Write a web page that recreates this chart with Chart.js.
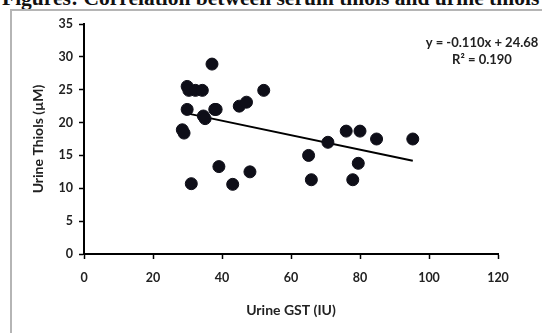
<!DOCTYPE html>
<html>
<head>
<meta charset="utf-8">
<script src="https://cdn.jsdelivr.net/npm/chart.js@4"></script>
<style>
    body { margin: 0; background: #fff; width: 542px; height: 333px; overflow: hidden; position: relative; }
    #caption { position: absolute; left: 2px; top: -12px; font: bold 21.5px/21.5px "Liberation Serif", serif; white-space: nowrap; color: #111; }
    #box { position: absolute; left: 10px; top: 9px; width: 530px; height: 340px; border: 2px solid #b5b5b5; border-right-color: #e4e4e4; }
    #wrap { position: absolute; left: 0; top: 0; width: 542px; height: 333px; }
</style>
</head>
<body>
<div id="caption">Figures: Correlation between serum thiols and urine thiols</div>
<div id="box"></div>
<div id="wrap"><canvas id="myChart"></canvas></div>
<script>
// Urine GST (IU) vs Urine Thiols (uM)
let gstValues = [37.1, 29.9, 30.4, 32.3, 34.3, 29.9, 34.6, 35.1, 37.9, 38.3, 45.0, 47.1, 52.1, 28.5, 29.0,
    39.1, 31.1, 43.1, 48.1,
    65.1, 65.9, 70.7, 76.0, 80.0, 79.5, 77.9, 84.8, 95.3];
let thiolValues = [28.9, 25.5, 24.9, 24.9, 24.9, 22.0, 21.0, 20.6, 22.0, 22.0, 22.5, 23.1, 24.9, 18.9, 18.4,
    13.3, 10.7, 10.6, 12.5,
    15.0, 11.3, 17.0, 18.7, 18.7, 13.8, 11.3, 17.5, 17.5];

// trend line ends as drawn in the picture
let trendX = [28.5, 95.3];
let trendY = [21.55, 14.2];

let xTicks = [0, 20, 40, 60, 80, 100, 120];
let yTicks = [0, 5, 10, 15, 20, 25, 30, 35];

let tickFont = { family: 'Lato', size: 12.5, weight: 'bold' };
let titleFont = { family: 'Lato', size: 14, weight: 'bold' };

let points = gstValues.map((x, i) => ({ x: x, y: thiolValues[i] }));
let trend = trendX.map((x, i) => ({ x: x, y: trendY[i] }));

// writes the equation text in the upper right corner
const equationPlugin = {
    id: 'equation',
    afterDatasetsDraw(chart) {
        let ctx = chart.ctx;
        ctx.save();
        ctx.fillStyle = '#222';
        ctx.font = 'bold 13px Lato';
        ctx.textAlign = 'center';
        ctx.textBaseline = 'middle';
        ctx.fillText('y = -0.110x + 24.68', 482, 43);
        ctx.fillText('R² = 0.190', 482, 60);
        ctx.restore();
    }
};

const config = {
    type: 'scatter',
    data: {
        datasets: [
            {
                data: points,
                backgroundColor: '#0e0e18',
                borderColor: '#0e0e18',
                pointRadius: 6,
                pointHoverRadius: 6,
            }, {
                type: 'line',
                data: trend,
                borderColor: '#000',
                borderWidth: 2,
                pointRadius: 0,
                fill: false,
            }]
    },
    options: {
        responsive: true,
        maintainAspectRatio: false,
        animation: false,
        layout: { padding: { top: 24, right: 44, left: 0, bottom: 0 } },
        plugins: {
            legend: { display: false },
            tooltip: { enabled: false },
        },
        scales: {
            x: {
                type: 'linear',
                min: 0,
                max: 120,
                afterBuildTicks(scale) { scale.ticks = xTicks.map(v => ({ value: v })); },
                afterFit(scale) { scale.height = 79; },
                ticks: { font: tickFont, color: '#222', padding: 11, maxRotation: 0 },
                grid: { drawOnChartArea: false, color: '#000', tickLength: 5, tickWidth: 1.5 },
                border: { color: '#000', width: 2 },
                title: { display: true, text: 'Urine GST (IU)', font: titleFont, color: '#222', padding: { bottom: 14 } },
            },
            y: {
                type: 'linear',
                min: 0,
                max: 35,
                afterBuildTicks(scale) { scale.ticks = yTicks.map(v => ({ value: v })); },
                afterFit(scale) { scale.width = 84; },
                ticks: { font: tickFont, color: '#222', padding: 6 },
                grid: { drawOnChartArea: false, color: '#000', tickLength: 5, tickWidth: 1.5 },
                border: { color: '#000', width: 2 },
                title: { display: true, text: 'Urine Thiols (µM)', font: titleFont, color: '#222', padding: { top: 30 } },
            },
        },
    },
    plugins: [equationPlugin],
};

let myChart = new Chart(document.getElementById('myChart'), config);
</script>
</body>
</html>
